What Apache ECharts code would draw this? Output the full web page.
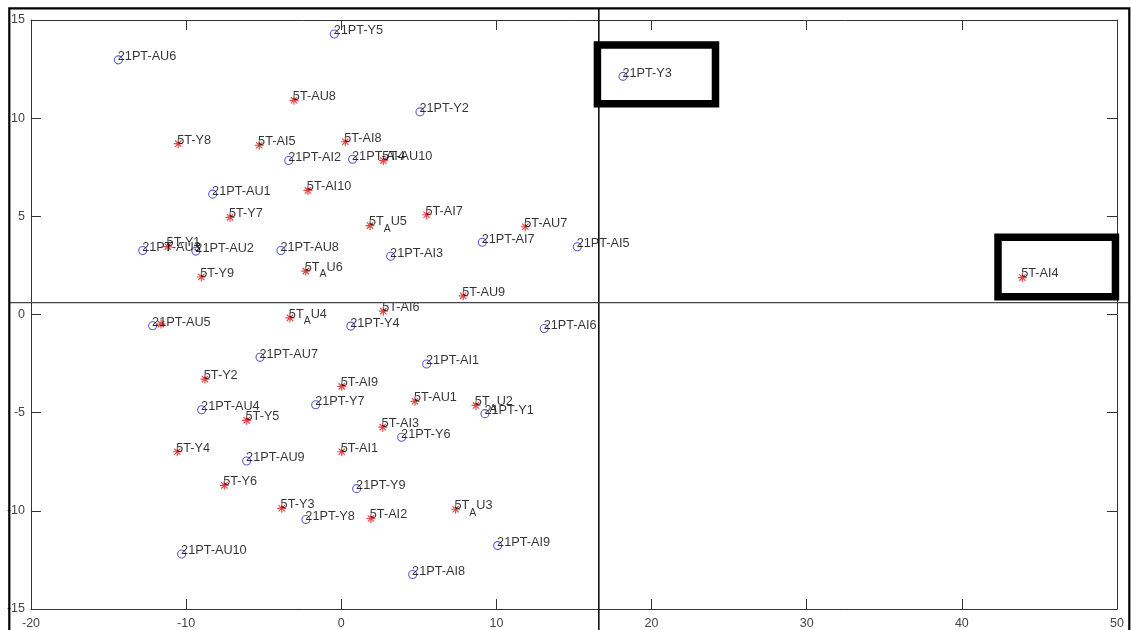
<!DOCTYPE html>
<html>
<head>
<meta charset="utf-8">
<script src="https://cdn.jsdelivr.net/npm/echarts@6.0.0/dist/echarts.min.js"></script>
<style>
html,body{margin:0;padding:0;background:#fff;}
#c{width:1131px;height:630px;}
</style>
</head>
<body>
<div id="c"></div>
<script>
// ---- data ----
const starLabels = ['5T-AU8','5T-Y8','5T-AI5','5T-AI8','5T-AU10','5T-AI10','5T-Y7','5T_AU5','5T-AI7','5T-AU7',
  '5T-Y1','5T-Y9','5T_AU6','5T-AU9','5T-AI4','5T-AI6','5T_AU4','','5T-Y2','5T-AI9',
  '5T-AU1','5T_AU2','5T-Y5','5T-AI3','5T-Y4','5T-AI1','5T-Y6','5T-Y3','5T-AI2','5T_AU3'];
const starX = [-3.05,-10.51,-5.29,0.26,2.71,-2.15,-7.17,1.85,5.50,11.86,
  -11.19,-9.02,-2.29,7.86,43.90,2.71,-3.31,-11.62,-8.79,0.03,
  4.75,8.68,-6.10,2.67,-10.57,0.03,-7.54,-3.84,1.91,7.37];
const starY = [10.91,8.70,8.62,8.80,7.84,6.32,4.95,4.53,5.08,4.47,
  3.46,1.91,2.21,0.95,1.88,0.17,-0.17,-0.49,-3.29,-3.66,
  -4.42,-4.63,-5.39,-5.74,-6.99,-6.99,-8.70,-9.87,-10.39,-9.92];

const circleLabels = ['21PT-Y5','21PT-AU6','21PT-Y3','21PT-Y2','21PT-AI2','21PT-AI4','21PT-AU1','21PT-AU3','21PT-AU2','21PT-AU8',
  '21PT-AI7','21PT-AI5','21PT-AI3','21PT-AU5','21PT-Y4','21PT-AI6','21PT-AU7','21PT-AI1','21PT-Y7','21PT-AU4',
  '21PT-Y1','21PT-Y6','21PT-AU9','21PT-Y9','21PT-Y8','21PT-AU10','21PT-AI9','21PT-AI8'];
const circleX = [-0.45,-14.37,18.16,5.07,-3.39,0.73,-8.29,-12.80,-9.37,-3.89,
  9.09,15.21,3.18,-12.16,0.61,13.08,-5.24,5.50,-1.65,-9.00,
  9.26,3.89,-6.10,0.99,-2.28,-10.29,10.08,4.60];
const circleY = [14.29,12.97,12.13,10.32,7.84,7.91,6.13,3.26,3.23,3.26,
  3.68,3.45,2.97,-0.57,-0.59,-0.71,-2.18,-2.52,-4.60,-4.85,
  -5.05,-6.25,-7.46,-8.87,-10.44,-12.20,-11.77,-13.24];

const xTicks = [-20,-10,0,10,20,30,40,50];
const yTicks = [-15,-10,-5,0,5,10,15];

// annotation positions (data units)
const dividerX = 16.6;
const dividerY = 0.6;
const highlightBoxes = [[16.51,13.73,24.12,10.74],[42.33,3.94,49.90,0.91]];

// ---- chart ----
const FONT = '"Liberation Sans", Arial, sans-serif';
const chart = echarts.init(document.getElementById('c'), null, {renderer:'canvas'});

function fmt(name){
  if(!name) return '';
  const i = name.indexOf('_');
  if(i < 0) return '{n|' + name + '}';
  return '{n|' + name.slice(0,i) + '}{s|' + name[i+1] + '}{n|' + name.slice(i+2) + '}';
}
const rich = {
  n:{fontSize:12.7, lineHeight:14, verticalAlign:'top', color:'#000', fontFamily:FONT},
  s:{fontSize:10.5, lineHeight:10, padding:[8,0,0,0], verticalAlign:'top', color:'#000', fontFamily:FONT}
};
const labelCfg = {
  show:true, position:[4,-5], align:'left', verticalAlign:'top',
  formatter: p => fmt(p.name), rich: rich
};

const starData = starX.map((x,i)=>({name:starLabels[i], value:[x, starY[i]]}));
const circleData = circleX.map((x,i)=>({name:circleLabels[i], value:[x, circleY[i]]}));

const axisColor = '#333';
function xAx(pos, showLabel){
  return {type:'value', min:xTicks[0], max:xTicks[xTicks.length-1], interval:xTicks[1]-xTicks[0], position:pos,
    axisLine:{show:true, onZero:false, lineStyle:{color:axisColor, width:1}},
    axisTick:{show:true, inside:true, length:10, lineStyle:{color:axisColor, width:1}},
    axisLabel:{show:showLabel, color:'#444', fontSize:12.5, fontFamily:FONT, margin:8, showMinLabel:true, showMaxLabel:true},
    splitLine:{show:false}};
}
function yAx(pos, showLabel){
  return {type:'value', min:yTicks[0], max:yTicks[yTicks.length-1], interval:yTicks[1]-yTicks[0], position:pos,
    axisLine:{show:true, onZero:false, lineStyle:{color:axisColor, width:1}},
    axisTick:{show:true, inside:true, length:10, lineStyle:{color:axisColor, width:1}},
    axisLabel:{show:showLabel, color:'#444', fontSize:12.5, fontFamily:FONT, margin:6, showMinLabel:true, showMaxLabel:true},
    splitLine:{show:false}};
}

const option = {
  animation:false,
  backgroundColor:'#fff',
  grid:{left:31, right:14, top:20, bottom:18, containLabel:false},
  xAxis:[xAx('bottom', true), xAx('top', false)],
  yAxis:[yAx('left', true), yAx('right', false)],
  series:[
    {type:'scatter', name:'21PT', data:circleData, symbol:'circle', symbolSize:8,
      itemStyle:{color:'transparent', borderColor:'#3535c0', borderWidth:1.1},
      label:labelCfg, emphasis:{disabled:true}},
    {type:'scatter', name:'5T', data:starData,
      symbol:'path://M0,-1L0,1M-1,0L1,0M-0.7,-0.7L0.7,0.7M-0.7,0.7L0.7,-0.7', symbolSize:9,
      itemStyle:{color:'transparent', borderColor:'#dd1c1c', borderWidth:1.2},
      label:labelCfg, emphasis:{disabled:true}}
  ]
};
chart.setOption(option);

function px(x,y){ return chart.convertToPixel({xAxisIndex:0, yAxisIndex:0}, [x,y]); }
const W = 1131, H = 630;
const frame = {x:9.3, y:8.3, r:1129.3, b:H+10};
const pv = px(dividerX, dividerY);
const g = [];
g.push({type:'line', silent:true, z:50, shape:{x1:pv[0], y1:frame.y, x2:pv[0], y2:H}, style:{stroke:'#000', lineWidth:1.5}});
g.push({type:'line', silent:true, z:50, shape:{x1:frame.x, y1:pv[1], x2:frame.r, y2:pv[1]}, style:{stroke:'#444', lineWidth:1.3}});
highlightBoxes.forEach(b=>{
  const a = px(b[0], b[1]), c = px(b[2], b[3]);
  g.push({type:'rect', silent:true, z:60, shape:{x:a[0], y:a[1], width:c[0]-a[0], height:c[1]-a[1]},
    style:{fill:'transparent', stroke:'#000', lineWidth:7.5}});
});
g.push({type:'rect', silent:true, z:70, shape:{x:frame.x, y:frame.y, width:frame.r-frame.x, height:frame.b-frame.y},
  style:{fill:'transparent', stroke:'#000', lineWidth:2.2}});
chart.setOption({graphic:g});
</script>
</body>
</html>
